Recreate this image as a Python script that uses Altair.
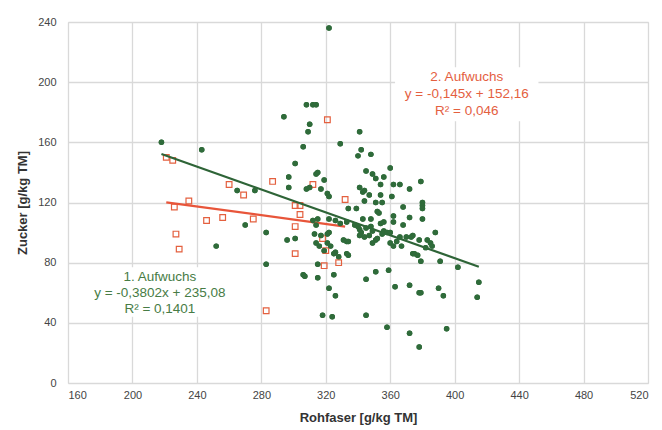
import altair as alt
import pandas as pd

# 1. Aufwuchs (green dots)
g1_x = [322, 218, 243, 294, 308, 312, 314, 310, 309, 306, 329, 341, 342, 340, 348, 360, 301, 297, 297, 314,
        315, 319, 308, 310, 317, 321, 322, 345, 349, 351, 356, 341, 344, 354, 362, 366, 379, 372, 343, 347,
        354, 361, 344, 351, 355, 380, 380, 380, 368, 334, 339, 352, 353, 343, 348, 362, 372, 380, 354, 356,
        362, 368, 322, 326, 315, 312, 265, 276, 270, 283, 296, 301, 252, 314, 322, 314, 316, 321, 323, 326,
        333, 334, 334, 333, 283, 315, 306, 307, 315, 325, 322, 326, 345, 351, 359, 363, 372, 378, 379, 390,
        393, 402, 415, 414, 379, 391, 374, 318, 324, 345, 358, 372, 378, 395, 338, 340, 341, 342, 341, 348,
        349, 347, 356, 358, 360, 366, 370, 374, 378, 383, 385, 388, 351, 349, 331, 319, 325, 375, 360, 362,
        364, 367, 373, 377, 386, 382, 329, 333, 317, 321, 313, 328, 355, 345, 344, 352]
g1_y = [236, 160, 155, 177, 185, 185, 185, 172, 167, 157, 159, 167, 155, 151, 152, 143, 146, 137, 130, 139,
        140, 135, 129, 130, 129, 126, 124, 141, 139, 136, 137, 130, 128, 132, 132, 132, 134, 129, 127, 125,
        125, 124, 121, 120, 120, 120, 118, 116, 117, 116, 116, 114, 113, 109, 109, 111, 110, 109, 106, 107,
        107, 105, 109, 108, 109, 108, 128, 128, 105, 100, 95, 96, 91, 105, 100, 93, 91, 93, 91, 87,
        94, 94, 85, 86, 79, 79, 72, 71, 70, 72, 63, 58, 69, 74, 75, 64, 65, 60, 60, 63,
        58, 77, 67, 57, 81, 81, 86, 45, 44, 45, 37, 33, 24, 36, 105, 104, 102, 100, 98, 104,
        101, 98, 101, 100, 100, 97, 97, 98, 95, 95, 93, 100, 95, 93, 95, 88, 86, 86, 93, 91,
        94, 91, 97, 85, 91, 90, 106, 107, 98, 99, 99, 84, 99, 103, 97, 96]

# 2. Aufwuchs (orange squares)
g2_x = [221, 225, 235, 226, 227, 229, 246, 256, 260, 269, 275, 287, 283, 301, 304, 304, 301, 301, 312, 321,
        332, 318, 320, 319, 328]
g2_y = [150, 148, 121, 117, 99, 89, 108, 110, 132, 125, 109, 134, 48, 118, 118, 112, 104, 86, 132, 175,
        122, 96, 88, 78, 80]

# trendline equations printed in the chart
trend_names = ["1. Aufwuchs", "2. Aufwuchs"]
trend_slope = [-0.3802, -0.145]
trend_icept = [235.08, 152.16]
trend_xmin = [218, 221]
trend_xmax = [415, 332]

label_lines_1 = ["1. Aufwuchs", "y = -0,3802x + 235,08", "R² = 0,1401"]
label_lines_2 = ["2. Aufwuchs", "y = -0,145x + 152,16", "R² = 0,046"]

x_ticks = [160, 200, 240, 280, 320, 360, 400, 440, 480, 520]
y_ticks = [0, 40, 80, 120, 160, 200, 240]

GREEN = "#2f6b3a"
GREEN_LINE = "#2e6437"
GREEN_TEXT = "#477c45"
ORANGE = "#e4603f"
ORANGE_LINE = "#e8553a"
FONT = "Liberation Sans"

pts1 = pd.DataFrame({"x": g1_x, "y": g1_y})
pts2 = pd.DataFrame({"x": g2_x, "y": g2_y})

rows = []
for n, s, b, a0, a1 in zip(trend_names, trend_slope, trend_icept, trend_xmin, trend_xmax):
    rows.append({"g": n, "x": a0, "y": s * a0 + b})
    rows.append({"g": n, "x": a1, "y": s * a1 + b})
lines = pd.DataFrame(rows)

xs = alt.Scale(domain=[160, 520], nice=False, zero=False)
ys = alt.Scale(domain=[0, 240], nice=False)

xax = alt.Axis(values=x_ticks, grid=True, gridColor="#d9d9d9", gridWidth=1.3, domain=False, ticks=False,
               labelFont=FONT, labelFontSize=11, labelColor="#444444", labelPadding=6,
               title="Rohfaser [g/kg TM]", titleFont=FONT, titleFontSize=13, titleFontWeight="bold",
               titleColor="#333333", titlePadding=11)
yax = alt.Axis(values=y_ticks, grid=True, gridColor="#d9d9d9", gridWidth=1.3, domain=False, ticks=False,
               labelFont=FONT, labelFontSize=11, labelColor="#444444", labelPadding=12,
               title="Zucker [g/kg TM]", titleFont=FONT, titleFontSize=13, titleFontWeight="bold",
               titleColor="#333333", titlePadding=8)

base = alt.Chart(pts1).mark_circle(size=30, color=GREEN, opacity=1).encode(
    x=alt.X("x:Q", scale=xs, axis=xax),
    y=alt.Y("y:Q", scale=ys, axis=yax),
)

# white boxes behind annotations
boxes = pd.DataFrame({"x": [172, 363], "x2": [262, 452], "y": [44, 174], "y2": [77, 210]})
box_layer = alt.Chart(boxes).mark_rect(color="white").encode(
    x="x:Q", x2="x2:Q", y="y:Q", y2="y2:Q")

sq = alt.Chart(pts2).mark_square(size=32, filled=False, color=ORANGE, strokeWidth=1.2, opacity=1).encode(
    x="x:Q", y="y:Q")

trend = alt.Chart(lines).mark_line(strokeWidth=2.2).encode(
    x="x:Q", y="y:Q", detail="g:N",
    color=alt.Color("g:N", scale=alt.Scale(domain=trend_names, range=[GREEN_LINE, ORANGE_LINE]), legend=None))

t1 = pd.DataFrame({"x": [217] * 3, "y": [70.5, 60.0, 49.5], "t": label_lines_1})
t2 = pd.DataFrame({"x": [407.5] * 3, "y": [203.5, 192.0, 180.5], "t": label_lines_2})
txt1 = alt.Chart(t1).mark_text(font=FONT, fontSize=13.5, color=GREEN_TEXT, align="center", baseline="middle").encode(
    x="x:Q", y="y:Q", text="t:N")
txt2 = alt.Chart(t2).mark_text(font=FONT, fontSize=13.5, color=ORANGE, align="center", baseline="middle").encode(
    x="x:Q", y="y:Q", text="t:N")

chart = alt.layer(base, box_layer, sq, trend, base, txt1, txt2).properties(
    width=580, height=361,
    autosize=alt.AutoSizeParams(type="none"),
    padding={"left": 60, "top": 14, "right": 6, "bottom": 47},
).configure_view(stroke=None).configure(background="white")

chart.save("out.html", embed_options={"renderer": "svg", "actions": False})
